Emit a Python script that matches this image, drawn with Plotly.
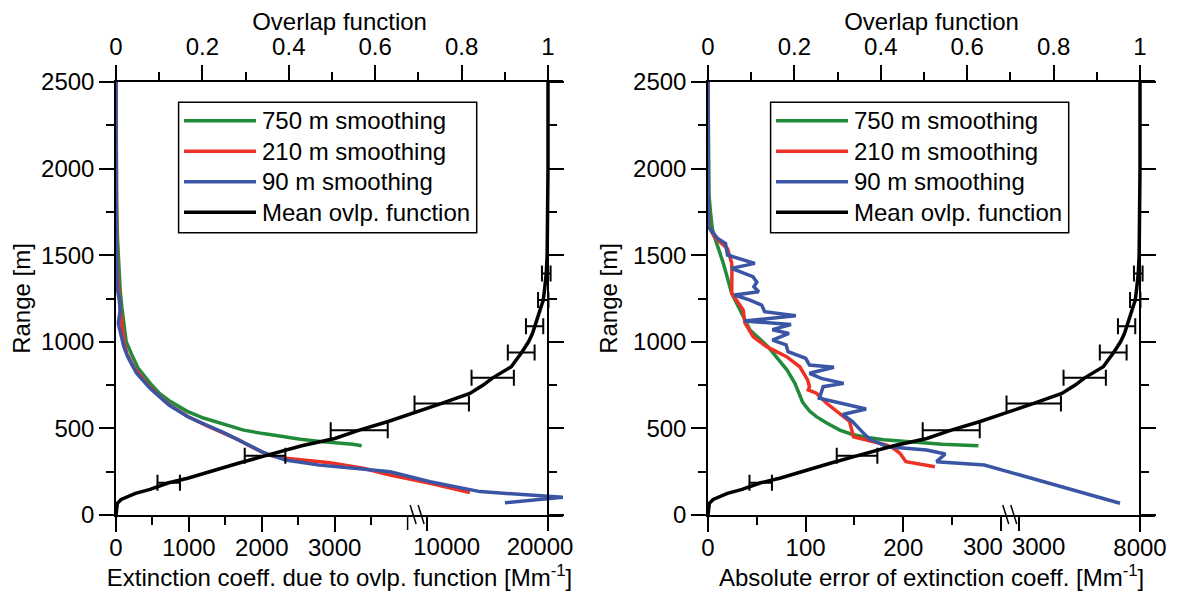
import plotly.graph_objects as go

# ---------------- data ----------------
# Mean overlap function (top axis), shared by both panels
overlap_range = [0, 40, 67, 90, 106, 125, 148, 186, 212, 250, 279, 300, 337, 400, 442, 490, 540,
                 587, 644, 702, 750, 792, 856, 938, 1000, 1048, 1096, 1160, 1241, 1300, 1395,
                 1500, 1700, 2000, 2500]
overlap_value = [0, 0.001, 0.003, 0.012, 0.025, 0.045, 0.079, 0.122, 0.166, 0.215, 0.253, 0.285,
                 0.338, 0.43, 0.5065, 0.563, 0.63, 0.688, 0.754, 0.819, 0.85, 0.872, 0.915, 0.939,
                 0.955, 0.964, 0.970, 0.980, 0.989, 0.992, 0.996, 0.998, 0.999, 1.0, 1.0]
bar_range = [186, 342, 490, 644, 792, 938, 1090, 1241, 1395]
bar_center = [0.122, 0.345, 0.563, 0.754, 0.872, 0.938, 0.969, 0.989, 0.996]
bar_half = [0.026, 0.047, 0.066, 0.063, 0.049, 0.031, 0.020, 0.012, 0.010]

# Left panel: extinction coefficient due to overlap function [Mm-1]
ext750_range = [2500, 2000, 1800, 1600, 1500, 1400, 1300, 1200, 1100, 1000, 930, 850, 760, 700,
                660, 600, 560, 520, 490, 470, 450, 438, 425, 417, 408, 400]
ext750 = [0, 2, 8, 20, 30, 42, 57, 80, 110, 140, 212, 300, 470, 600, 730, 970, 1200, 1500, 1750,
          2020, 2300, 2530, 2800, 3050, 3250, 3370]
ext210_range = [2500, 2000, 1700, 1500, 1400, 1300, 1200, 1100, 1000, 930, 850, 760, 700, 640,
                570, 520, 470, 430, 400, 365, 340, 327, 302, 270, 231, 183, 129]
ext210 = [0, 0, 2, 10, 20, 35, 55, 80, 110, 150, 250, 420, 560, 720, 980, 1220, 1500, 1700,
          1830, 2000, 2150, 2330, 2935, 3390, 3760, 10285, 13560]
ext90_range = [2500, 2000, 1700, 1500, 1300, 1240, 1183, 1106, 971, 913, 820, 731, 635, 567, 471,
               404, 362, 317, 288, 269, 250, 192, 135, 102, 71]
ext90 = [0, 0, 1, 5, 20, 46, 57, 31, 108, 160, 280, 470, 727, 985, 1500, 1810, 2017, 2326, 2790,
         3306, 3760, 10285, 14400, 21240, 16450]

# Right panel: absolute error of extinction coefficient [Mm-1]
err750_range = [2500, 2000, 1850, 1750, 1650, 1597, 1453, 1280, 1184, 1068, 975, 900, 837, 760,
                700, 650, 600, 568, 530, 490, 465, 450, 435, 425, 415, 408, 400]
err750 = [0, 0.3, 1, 2.5, 4.5, 7.2, 15.7, 24.3, 32.8, 43, 61, 72, 81, 89, 93, 97, 104, 111, 122,
          135, 148, 160, 180, 200, 220, 240, 277]
err210_range = [2500, 2000, 1800, 1663, 1606, 1538, 1491, 1453, 1400, 1280, 1184, 1107, 1029, 972,
                914, 856, 780, 741, 722, 703, 645, 568, 540, 452, 433, 404, 385, 356, 308, 279]
err210 = [0, 0, 0.3, 1, 6.5, 20, 22.5, 24.3, 24.5, 24.3, 36, 37.9, 46.4, 60, 80.5, 94, 102, 104,
          102.7, 111, 121.5, 138.5, 145, 149, 164, 183, 190, 196.6, 202.7, 232.4]
err90_range = [2500, 2000, 1700, 1663, 1596, 1567, 1501, 1470, 1453, 1424, 1400, 1376, 1345, 1318,
               1289, 1270, 1241, 1212, 1174, 1150, 1120, 1100, 1070, 1048, 1010, 982, 943, 905,
               866, 853, 818, 789, 760, 741, 674, 645, 612, 580, 540, 480, 440, 394, 375, 352,
               308, 289, 68]
err90 = [0, 0, 0, 0.5, 10, 18, 20, 40, 48, 24, 34, 46, 50, 47, 52, 27, 43, 55, 58, 90, 37, 85, 66,
         83, 66, 80, 82, 100, 104, 129, 104, 116, 139, 118, 114, 138, 162, 138, 148, 158, 165,
         184, 224, 243, 234, 283, 7176]

series_names = ["750 m smoothing", "210 m smoothing", "90 m smoothing", "Mean ovlp. function"]
series_colors = ["#228B3B", "#EE3124", "#3B55A5", "#000000"]

left_ticks = [0, 1000, 2000, 3000, 10000, 20000]
left_minor = [500, 1500, 2500, 3500]
right_ticks = [0, 100, 200, 300, 3000, 8000]
right_minor = [50, 150, 250]
overlap_ticks = [0, 0.2, 0.4, 0.6, 0.8, 1]
overlap_ticklabels = ["0", "0.2", "0.4", "0.6", "0.8", "1"]
overlap_minor = [0.1, 0.3, 0.5, 0.7, 0.9]
range_ticks = [0, 500, 1000, 1500, 2000, 2500]
range_minor = [250, 750, 1250, 1750, 2250]

# ---------------- broken-axis scales ----------------
# (value_start, value_end, axis_start, axis_end) for the two segments of each bottom axis
left_segments = [(0, 4000, 0.0, 0.675), (10000, 20000, 0.719, 1.0)]
right_segments = [(0, 300, 0.0, 0.678), (3000, 8000, 0.719, 1.0)]
# horizontal nudges (px) of tick labels next to the break, as in the original
left_label_shift = {10000: 20, 20000: -8}
right_label_shift = {300: -18, 3000: 20}


def broken(values, segs):
    (a0, a1, f0, f1), (b0, b1, g0, g1) = segs
    out = []
    for v in values:
        if v <= a1:
            out.append(f0 + (v - a0) / (a1 - a0) * (f1 - f0))
        elif v < b0:
            out.append(f1 + (v - a1) / (b0 - a1) * (g0 - f1))
        else:
            out.append(g0 + (v - b0) / (b1 - b0) * (g1 - g0))
    return out


# ---------------- layout geometry ----------------
VIEW_W, VIEW_H = 1179, 596
OFF = 8                      # page body margin
W, H = VIEW_W - OFF, VIEW_H - OFF
UNIT = 432.0                 # px per overlap unit
FMAX = 1.035
PANEL_X0 = [116, 708]        # page px of the y axes
Y_TOP, Y_BOT = 82, 515       # page px of 2500 m and 0 m
FONT = "Liberation Sans, Arial, Helvetica, sans-serif"
FS = 24


def px(x):
    return (x - OFF) / W


def py(y):
    return 1 - (y - OFF) / H


ydom = [py(Y_BOT), py(Y_TOP)]


def xdom(x0):
    return [px(x0), px(x0 + UNIT * FMAX)]


fig = go.Figure()

panels = [
    dict(segs=left_segments, data=[(ext750, ext750_range), (ext210, ext210_range), (ext90, ext90_range)],
         ticks=left_ticks, minor=left_minor, shift=left_label_shift,
         title="Extinction coeff. due to ovlp. function [Mm<sup>-1</sup>]"),
    dict(segs=right_segments, data=[(err750, err750_range), (err210, err210_range), (err90, err90_range)],
         ticks=right_ticks, minor=right_minor, shift=right_label_shift,
         title="Absolute error of extinction coeff. [Mm<sup>-1</sup>]"),
]

tickfont = dict(family=FONT, size=FS, color="black")
axis_common = dict(showline=True, linecolor="black", linewidth=1.5, ticks="outside", ticklen=15,
                   tickwidth=1.5, tickcolor="black", showgrid=False, zeroline=False,
                   automargin=False, tickangle=0, tickfont=tickfont)
minor_common = dict(tickmode="array", ticks="outside", ticklen=8, tickwidth=1.5, tickcolor="black")
NB = "\u00a0"
next_axis = 5

for i, p in enumerate(panels):
    n = i * 2
    xb = "x" if i == 0 else f"x{n + 1}"
    xt = f"x{n + 2}"
    yl = "y" if i == 0 else f"y{n + 1}"
    yr = f"y{n + 2}"
    for (vals, rng), name, col in zip(p["data"], series_names[:3], series_colors[:3]):
        fig.add_trace(go.Scatter(x=broken(vals, p["segs"]), y=rng, mode="lines", name=name,
                                 line=dict(color=col, width=3.5), xaxis=xb, yaxis=yl,
                                 showlegend=False))
    fig.add_trace(go.Scatter(x=overlap_value, y=overlap_range, mode="lines", name=series_names[3],
                             line=dict(color="black", width=3.5), xaxis=xt, yaxis=yr,
                             showlegend=False))
    fig.add_trace(go.Scatter(x=bar_center, y=bar_range, mode="markers", name="overlap uncertainty",
                             marker=dict(size=2, color="black"), xaxis=xt, yaxis=yr,
                             error_x=dict(type="data", array=bar_half, color="black",
                                          thickness=2, width=8),
                             showlegend=False))

    dom = xdom(PANEL_X0[i])
    xb_key = "xaxis" if i == 0 else f"xaxis{n + 1}"
    xt_key = f"xaxis{n + 2}"
    yl_key = "yaxis" if i == 0 else f"yaxis{n + 1}"
    yr_key = f"yaxis{n + 2}"

    plain = [t for t in p["ticks"] if t not in p["shift"]]
    fig.update_layout(**{
        xb_key: dict(axis_common, domain=dom, range=[0, FMAX], anchor=yl,
                     tickmode="array", tickvals=broken(plain, p["segs"]),
                     ticktext=[str(t) for t in plain],
                     minor=dict(minor_common, tickvals=broken(p["minor"], p["segs"])),
                     ticklabelstandoff=-5,
                     title=dict(text=p["title"] + NB * 7, font=tickfont, standoff=7)),
        xt_key: dict(axis_common, domain=dom, range=[0, FMAX], anchor=yr, overlaying=xb,
                     side="top", tickmode="array", tickvals=overlap_ticks, ticktext=overlap_ticklabels,
                     minor=dict(minor_common, tickvals=overlap_minor),
                     ticklabelstandoff=1,
                     title=dict(text="Overlap function" + NB * 3, font=tickfont, standoff=15)),
        yl_key: dict(axis_common, domain=ydom, range=[0, 2500], anchor=xb,
                     tickmode="array", tickvals=range_ticks,
                     minor=dict(minor_common, tickvals=range_minor),
                     title=dict(text="Range [m]", font=tickfont, standoff=9)),
        yr_key: dict(axis_common, domain=ydom, range=[0, 2500], anchor="free", overlaying=yl,
                     side="right", position=px(PANEL_X0[i] + UNIT), showticklabels=False,
                     tickmode="array", tickvals=range_ticks,
                     minor=dict(minor_common, tickvals=range_minor)),
    })
    # labelled ticks next to the break, with their labels nudged sideways
    for val, sh in p["shift"].items():
        xid = f"x{next_axis}"
        fig.update_layout(**{f"xaxis{next_axis}": dict(
            axis_common, showline=False, domain=dom, range=[0, FMAX],
            anchor=yl, overlaying=xb, side="bottom",
            tickmode="array", tickvals=broken([val], p["segs"]),
            ticktext=[str(val)], ticklabelshift=sh, ticklabelstandoff=-5)})
        # empty trace so that this label axis is instantiated on the panel
        fig.add_trace(go.Scatter(x=[], y=[], mode="lines", xaxis=xid, yaxis=yl,
                                 showlegend=False, hoverinfo="skip"))
        next_axis += 1

    x0 = PANEL_X0[i]
    # long tick closing the first axis segment
    fend = broken([p["segs"][0][1]], p["segs"])[0]
    if p["segs"][0][1] not in p["ticks"]:
        fig.add_shape(type="line", xref="paper", yref="paper",
                      x0=px(x0 + fend * UNIT), x1=px(x0 + fend * UNIT),
                      y0=py(Y_BOT), y1=py(Y_BOT + 15), line=dict(color="black", width=1.5))
    # axis-break marks
    fb = (p["segs"][0][3] + p["segs"][1][2]) / 2
    for dxm in (-7, 1):
        xa = x0 + fb * UNIT + dxm
        fig.add_shape(type="line", xref="paper", yref="paper",
                      x0=px(xa), y0=py(505), x1=px(xa + 6), y1=py(524),
                      line=dict(color="black", width=1.5))

    # legend box (drawn to match the original long line samples)
    fig.add_shape(type="rect", xref="paper", yref="paper", x0=px(x0 + 62.6), x1=px(x0 + 360.7),
                  y0=py(102.3), y1=py(232.7), line=dict(color="black", width=1.5),
                  fillcolor="white", layer="above")
    for k, (name, col) in enumerate(zip(series_names, series_colors)):
        yy = 120.7 + k * 30.5
        fig.add_shape(type="line", xref="paper", yref="paper", x0=px(x0 + 68), x1=px(x0 + 140),
                      y0=py(yy), y1=py(yy), line=dict(color=col, width=3.5), layer="above")
        fig.add_annotation(xref="paper", yref="paper", x=px(x0 + 144), y=py(yy),
                           xanchor="left", yanchor="middle", text=name, showarrow=False,
                           font=tickfont)

fig.update_layout(width=W, height=H, margin=dict(l=0, r=0, t=0, b=0),
                  paper_bgcolor="white", plot_bgcolor="white", showlegend=False,
                  font=dict(family=FONT, size=FS, color="black"))

fig.write_html("out.html")
